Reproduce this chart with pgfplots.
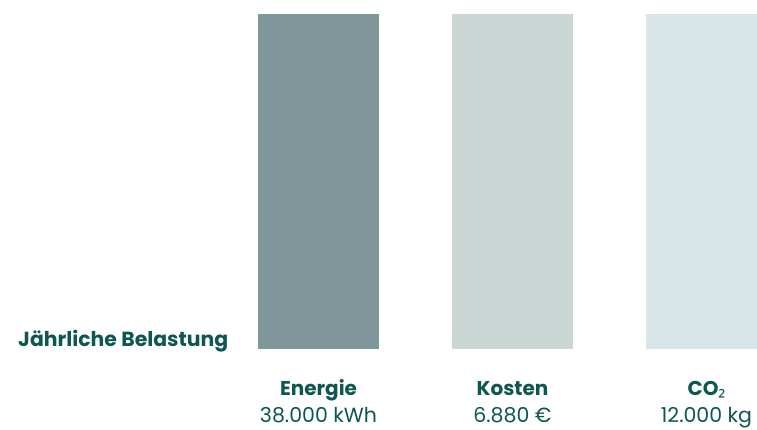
\documentclass[border=0pt]{standalone}
\usepackage{pgfplots}
\pgfplotsset{compat=1.18}
\usepackage{fontspec}
\setmainfont{Poppins}
\newfontfamily\subfont{Noto Sans}
\definecolor{txt}{HTML}{0D5651}
\definecolor{cA}{HTML}{7F979A}
\definecolor{cB}{HTML}{C9D6D3}
\definecolor{cC}{HTML}{D9E6E9}
\tikzset{
  catname/.style={anchor=base, font=\fontsize{20}{24}\selectfont\bfseries, text=txt, inner sep=0pt, yshift=-47pt},
  catval/.style={anchor=base, font=\fontsize{20.5}{24}\selectfont, text=txt, inner sep=0pt, yshift=-73.5pt},
}
\begin{document}
\begin{tikzpicture}
\begin{axis}[
  at={(0pt,81pt)}, anchor=south west,
  scale only axis, width=757pt, height=335pt,
  xmin=-1.6418, xmax=2.2603, ymin=0, ymax=100,
  hide axis, clip mode=individual,
  ybar, bar width=121pt, bar shift=0pt,
]
\addplot[fill=cA, draw=none] coordinates {(0,100)};
\addplot[fill=cB, draw=none] coordinates {(1,100)};
\addplot[fill=cC, draw=none] coordinates {(2,100)};
\node[anchor=base west, font=\fontsize{20.4}{24}\selectfont\bfseries, text=txt, inner sep=0pt] at (rel axis cs:0.0238,0) [yshift=2pt] {Jährliche Belastung};
\node[catname] at (axis cs:0,0) {Energie};
\node[catval] at (axis cs:0,0) {38.000 kWh};
\node[catname] at (axis cs:1,0) {Kosten};
\node[catval] at (axis cs:1,0) {6.880 €};
\node[catname] at (axis cs:2,0) {CO{\subfont\bfseries ₂}};
\node[catval] at (axis cs:2,0) {12.000 kg};
\end{axis}
\pgfresetboundingbox
\path[use as bounding box] (0,0) rectangle (757pt,430pt);
\end{tikzpicture}
\end{document}
